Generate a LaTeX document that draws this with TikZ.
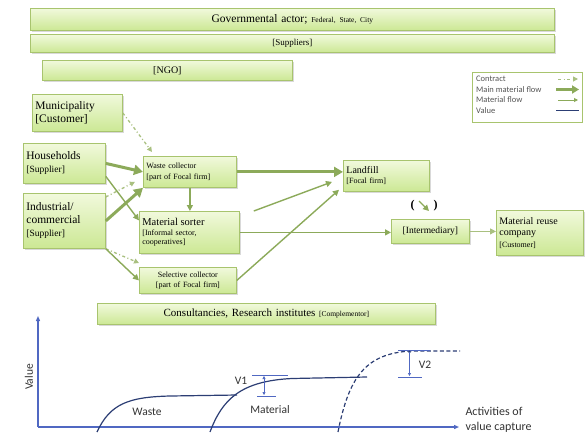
\documentclass[tikz,border=0pt]{standalone}
\usepackage{fontspec}
\setmainfont{Liberation Serif}
\newfontfamily\calfont{Carlito}
\usetikzlibrary{shadows,arrows.meta,positioning}

\definecolor{boxline}{HTML}{A8C46E}
\definecolor{boxtop}{HTML}{F1F9DC}
\definecolor{boxbot}{HTML}{CCE894}
\definecolor{flow}{HTML}{8CAA5A}
\definecolor{flowlight}{HTML}{A9C080}
\definecolor{axisblue}{HTML}{5068C2}
\definecolor{curveblue}{HTML}{2C3E74}
\definecolor{legendtext}{HTML}{555555}

\tikzset{
  actor/.style={draw=boxline, line width=0.8pt, top color=boxtop, bottom color=boxbot,
    drop shadow={shadow xshift=1.2pt, shadow yshift=-1.5pt, opacity=0.3},
    inner sep=3pt, anchor=north west, align=left},
  contract/.style={flowlight, line width=1.3pt, dash pattern=on 3pt off 2.5pt on 1pt off 2.5pt,
    -{Triangle[length=5pt,width=5pt]}},
  mainflow/.style={flow, line width=3pt, -{Triangle[length=9pt,width=10pt]}},
  matflow/.style={flow, line width=1.4pt, -{Triangle[length=6pt,width=6pt]}},
  valueline/.style={curveblue, line width=1.2pt},
  axisline/.style={axisblue, line width=1.3pt, -{Triangle[length=5pt,width=4pt]}},
  marker/.style={axisblue, line width=0.6pt},
}

\begin{document}
\begin{tikzpicture}[x=1pt,y=-1pt]
    \useasboundingbox (0,0) rectangle (588,434);
    %Actors on top
    \node[actor, minimum width=524, minimum height=22, text width=518, align=center, font=\fontsize{11.5}{12}\selectfont] (gov) at (30,8)
        {Governmental actor; {\fontsize{7.5}{9}\selectfont Federal, State, City}};
    \node[actor, minimum width=524, minimum height=18, text width=518, align=center, font=\fontsize{9}{10}\selectfont] (sup) at (30,34) {[Suppliers]};
    \node[actor, minimum width=250, minimum height=20, text width=244, align=center, font=\fontsize{10}{11}\selectfont] (ngo) at (42,60) {[NGO]};
    %Legend
    \node[draw=boxline, fill=white, line width=0.6pt, anchor=north west, minimum width=110, minimum height=50] (legend) at (472,72) {};
    \begin{scope}[every node/.style={anchor=west, inner sep=0pt, text=legendtext, font=\calfont\fontsize{8.5}{9}\selectfont}]
    \node (lcon) at (476,79) {Contract};
    \node (lmain) at (476,89.5) {Main material flow};
    \node (lmat) at (476,100) {Material flow};
    \node (lval) at (476,110.5) {Value};
    \end{scope}
    \draw[contract, line width=1pt] (558,79) -- (578,79);
    \draw[flow, line width=2.6pt, -{Triangle[length=7pt,width=8pt]}] (556,89.5) -- (579,89.5);
    \draw[flow, line width=0.9pt, -{Triangle[length=4pt,width=4pt]}] (558,100) -- (578,100);
    \draw[valueline, line width=0.9pt] (556,110.5) -- (579,110.5);
    %Left actors
    \node[actor, minimum width=90, minimum height=37, text width=84, font=\fontsize{11.5}{13}\selectfont] (muni) at (32,94)
        {Municipality\\{}[Customer]};
    \node[actor, minimum width=82, minimum height=40, text width=76, font=\fontsize{11.5}{13}\selectfont] (house) at (23,143)
        {Households\\{\fontsize{9.5}{12}\selectfont [Supplier]}};
    \node[actor, minimum width=82, minimum height=55, text width=76, font=\fontsize{11.5}{13}\selectfont] (indus) at (23,193)
        {Industrial/\\commercial\\{\fontsize{9.5}{12}\selectfont [Supplier]}};
    %Focal firm
    \node[actor, minimum width=93, minimum height=31, text width=87, font=\fontsize{8}{10.5}\selectfont] (wcol) at (143,156)
        {Waste collector\\{}[part of Focal firm]};
    \node[actor, minimum width=100, minimum height=42, text width=94, font=\fontsize{8}{9.5}\selectfont] (sorter) at (139,211)
        {{\fontsize{10.5}{13}\selectfont Material sorter}\\{}[Informal sector,\\cooperatives]};
    \node[actor, minimum width=97, minimum height=26, text width=91, align=center, font=\fontsize{8}{10.5}\selectfont] (selc) at (139,267)
        {Selective collector\\{}[part of Focal firm]};
    \node[actor, minimum width=86, minimum height=31, text width=80, font=\fontsize{8}{10}\selectfont] (landfill) at (343,160)
        {{\fontsize{10}{12}\selectfont Landfill}\\{}[Focal firm]};
    \node[actor, minimum width=78, minimum height=24, text width=72, align=center, font=\fontsize{9.5}{11}\selectfont] (inter) at (391,219)
        {[Intermediary]};
    \node[actor, minimum width=87, minimum height=45, text width=81, font=\fontsize{10}{11.5}\selectfont] (reuse) at (496,210)
        {Material reuse\\company\\{\fontsize{8}{10}\selectfont [Customer]}};
    \node[font=\bfseries\fontsize{12}{12}\selectfont] (hint) at (424,206) {(\hspace{19pt})};
    \node[actor, minimum width=338, minimum height=21, text width=332, align=center, font=\fontsize{11}{12}\selectfont] (consult) at (97,303)
        {Consultancies, Research institutes {\fontsize{7.5}{9}\selectfont [Complementor]}};
    %Contracts
    \draw[contract] (muni.east) -- ([xshift=9pt,yshift=4pt]wcol.north west);
    \draw[contract] ([yshift=-4pt]indus.north east) -- ([xshift=-8pt,yshift=6pt]wcol.south west);
    \draw[contract] (indus.south east) -- ([yshift=4pt]selc.north west);
    %Main material flow
    \draw[mainflow] (house.east) -- (wcol.west);
    \draw[mainflow] (indus.east) -- (wcol.south west);
    \draw[mainflow] (wcol.east) -- (wcol.east -| landfill.west);
    %Material flow
    \draw[matflow] ([yshift=-13pt]house.east) -- ([yshift=12pt]sorter.west);
    \draw[matflow] (indus.south east) -- (selc.west);
    \draw[matflow] (wcol.south) -- (wcol.south |- sorter.north);
    \draw[matflow] ([xshift=14pt]sorter.north east) -- ([xshift=-11pt,yshift=-6pt]landfill.west);
    \draw[matflow] (sorter.east) -- (sorter.east -| inter.west);
    \draw[matflow] (selc.east) -- ([xshift=-4pt,yshift=2pt]landfill.south west);
    \draw[matflow, flowlight, line width=1pt] (inter.east) -- (inter.east -| reuse.west);
    \draw[matflow] ([xshift=-5pt,yshift=5pt]hint.center) -- ([xshift=5pt,yshift=-5pt]hint.center);
    %Value graph
    \coordinate (orig) at (38,427);
    \draw[axisline] (orig) -- (38,316);
    \draw[axisline] (orig) -- (459,427);
    \begin{scope}[every node/.style={font=\calfont\fontsize{11.5}{13}\selectfont, text=black!80}]
    \node[rotate=90] (vlab) at (29,377) {Value};
    \node (wlab) at (147,412) {Waste};
    \node (mlab) at (270,410) {Material};
    \node (v1) at (241,381) {V1};
    \node (v2) at (425,365) {V2};
    \node[anchor=west, align=left, font=\calfont\fontsize{12}{14.5}\selectfont] (act) at (462,420) {Activities of\\value capture};
    \end{scope}
    %Curves
    \draw[valueline] (97,432) .. controls (110,404) and (128,397) .. (170,396) -- (237,395);
    \draw[valueline] (210,432) .. controls (222,400) and (240,381) .. (292,378.5) -- (367,377);
    \draw[valueline, dash pattern=on 4pt off 2.5pt] (338,432) .. controls (349,376) and (366,354) .. (410,351) -- (460,351);
    %V1, V2
    \draw[marker] (252,375) -- (288,375);
    \draw[marker] (257,396) -- (276,396);
    \draw[marker, {Triangle[length=3pt,width=3pt]}-{Triangle[length=3pt,width=3pt]}] (264,376) -- (264,395);
    \draw[marker] (398,350) -- (430,350);
    \draw[marker] (398,377) -- (422,377);
    \fill[curveblue] (409.5,352) circle (1.4);
    \draw[marker, -{Triangle[length=3pt,width=3pt]}] (409.5,352) -- (409.5,376);
\end{tikzpicture}
\end{document}
